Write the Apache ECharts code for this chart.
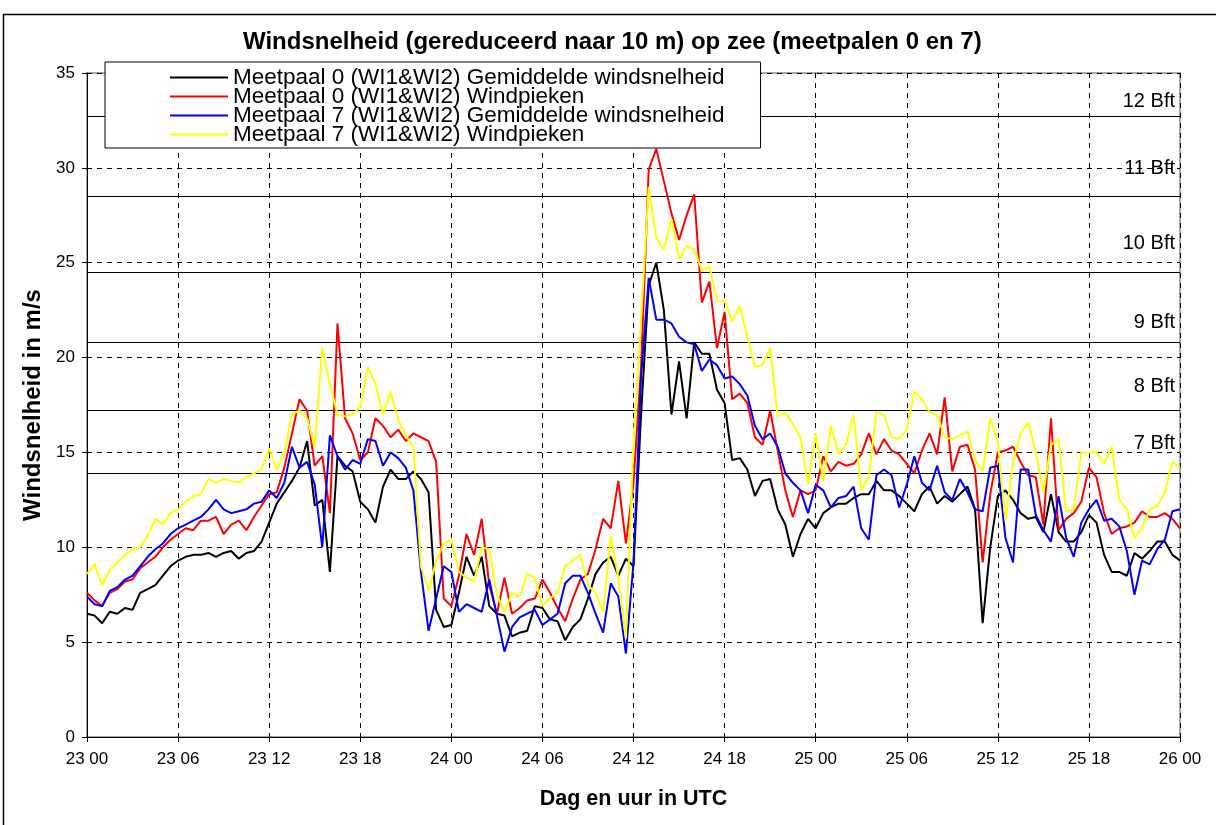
<!DOCTYPE html>
<html>
<head>
<meta charset="utf-8">
<title>Windsnelheid op zee</title>
<script src="https://cdn.jsdelivr.net/npm/echarts@6/dist/echarts.min.js"></script>
<style>
  html, body { margin: 0; padding: 0; background: #fff; }
  #chart { width: 1216px; height: 825px; }
</style>
</head>
<body>
<div id="chart"></div>
<script>
// half-hourly samples from 23 00 UTC to 26 00 UTC (145 values per series)
const meetpaal0Gem = [
  6.5, 6.4, 6.0, 6.6, 6.5, 6.8, 6.7, 7.6, 7.8, 8.0, 8.5, 9.0, 9.3, 9.5, 9.6,
  9.6, 9.7, 9.5, 9.7, 9.8, 9.4, 9.7, 9.8, 10.3, 11.3, 12.3, 12.9, 13.5, 14.2,
  15.6, 12.2, 12.5, 8.7, 14.8, 14.3, 14.0, 12.4, 12.0, 11.3, 13.2, 14.1, 13.6, 13.6, 14.0,
  13.6, 12.9, 6.7, 5.8, 5.9, 7.6, 9.5, 8.5, 9.5, 6.9, 6.5, 6.4, 5.3, 5.5,
  5.6, 6.9, 6.8, 6.2, 6.1, 5.1, 5.8, 6.2, 7.3, 8.6, 9.2, 9.5, 8.5, 9.4, 9.0,
  17.0, 23.8, 25.0, 22.5, 17.0, 19.8, 16.8, 20.8, 20.2, 20.2, 18.3, 17.6, 14.6, 14.7,
  14.1, 12.7, 13.5, 13.6, 12.0, 11.2, 9.5, 10.7, 11.5, 11.0, 11.8, 12.1, 12.3, 12.3, 12.6,
  12.8, 12.8, 13.5, 13.0, 13.0, 12.7, 12.3, 11.9, 12.8, 13.2, 12.3, 12.7, 12.4, 12.8, 13.2,
  12.0, 6.0, 10.0, 12.7, 13.0, 12.5, 11.8, 11.5, 11.6, 10.8, 12.8, 10.8, 10.3, 10.3,
  10.8, 11.7, 11.3, 9.6, 8.7, 8.7, 8.5, 9.7, 9.4, 9.8, 10.3, 10.3, 9.6, 9.3
];
const meetpaal0Piek = [
  7.6, 7.2, 6.9, 7.6, 7.8, 8.2, 8.3, 8.9, 9.2, 9.5, 10.0, 10.4, 10.7, 11.0, 10.9,
  11.4, 11.4, 11.6, 10.7, 11.2, 11.4, 10.9, 11.6, 12.2, 12.8, 12.9, 14.2, 16.0, 17.8,
  17.2, 14.3, 14.8, 11.8, 21.8, 16.8, 16.0, 14.6, 15.0, 16.8, 16.4, 15.8, 16.2, 15.6, 16.0,
  15.8, 15.6, 14.5, 7.3, 6.9, 8.5, 10.7, 9.6, 11.5, 8.0, 6.5, 8.4, 6.5, 6.8,
  7.2, 7.3, 8.3, 7.6, 6.8, 6.1, 7.3, 8.3, 8.6, 9.9, 11.5, 11.0, 13.5, 10.2, 13.4,
  19.5, 29.9, 31.0, 29.3, 27.6, 26.2, 27.5, 28.6, 22.9, 24.0, 20.5, 22.4, 17.8, 18.1,
  17.6, 15.8, 15.4, 17.2, 15.1, 13.0, 11.6, 13.0, 12.8, 13.0, 14.8, 14.0, 14.5, 14.3, 14.4,
  14.9, 16.0, 14.9, 15.7, 15.1, 14.9, 14.4, 13.9, 15.1, 16.0, 14.9, 17.9, 14.0, 15.3, 15.4,
  14.1, 9.2, 12.8, 15.0, 15.1, 15.3, 14.5, 13.8, 13.7, 11.2, 16.8, 10.9, 11.5, 11.8,
  12.4, 14.2, 13.7, 11.8, 10.7, 11.0, 11.1, 11.3, 11.9, 11.6, 11.6, 11.8, 11.5, 11.0
];
const meetpaal7Gem = [
  7.4, 7.0, 6.9, 7.7, 7.9, 8.3, 8.5, 9.0, 9.5, 9.9, 10.2, 10.7, 11.0, 11.2, 11.4,
  11.6, 12.0, 12.5, 12.0, 11.8, 11.9, 12.0, 12.3, 12.4, 13.0, 12.6, 13.4, 15.3, 14.2,
  14.5, 13.3, 10.0, 15.9, 14.8, 14.1, 14.6, 14.4, 15.7, 15.6, 14.3, 15.0, 14.7, 14.2, 13.0,
  8.7, 5.6, 7.3, 9.0, 8.7, 6.6, 7.0, 6.8, 6.6, 8.3, 6.4, 4.5, 5.8, 6.3,
  6.5, 6.7, 5.9, 6.2, 6.5, 8.1, 8.5, 8.5, 7.6, 6.5, 5.5, 8.1, 7.4, 4.4, 9.2,
  19.0, 24.2, 22.0, 22.0, 21.8, 21.1, 20.8, 20.7, 19.3, 19.9, 19.6, 18.9, 19.0, 18.6,
  18.0, 16.4, 15.7, 16.0, 15.3, 13.9, 13.4, 13.0, 11.8, 13.3, 13.0, 12.1, 12.6, 12.7, 13.2,
  11.0, 10.4, 13.8, 14.1, 13.8, 12.1, 13.3, 14.8, 13.4, 13.0, 14.3, 12.9, 12.5, 13.6, 12.9,
  12.0, 11.9, 14.2, 14.3, 10.5, 9.2, 14.1, 14.1, 11.7, 10.9, 10.3, 12.7, 10.5, 9.5,
  11.3, 12.0, 12.5, 11.4, 11.5, 11.1, 9.8, 7.5, 9.3, 9.1, 9.9, 10.4, 11.9, 12.0
];
const meetpaal7Piek = [
  8.6, 9.1, 8.0, 8.8, 9.2, 9.6, 9.9, 10.0, 10.6, 11.5, 11.2, 11.8, 12.0, 12.4, 12.7,
  12.8, 13.6, 13.4, 13.6, 13.5, 13.4, 13.7, 13.9, 14.1, 15.2, 14.1, 15.0, 17.0, 17.2,
  16.8, 15.3, 20.5, 18.6, 17.0, 16.9, 17.0, 17.4, 19.5, 18.6, 17.0, 18.2, 16.7, 15.9, 15.3,
  9.0, 7.7, 9.3, 10.2, 10.4, 8.7, 8.4, 8.2, 10.0, 9.9, 7.5, 6.6, 7.6, 7.4,
  8.6, 8.4, 6.9, 7.3, 7.6, 9.0, 9.3, 9.6, 8.0, 7.6, 6.6, 10.6, 8.4, 5.2, 15.5,
  22.0, 29.0, 26.3, 25.7, 27.3, 25.2, 25.9, 25.7, 24.6, 24.8, 23.0, 23.0, 21.9, 22.7,
  21.1, 19.5, 19.6, 20.5, 16.9, 17.1, 16.5, 15.8, 13.3, 16.0, 13.5, 16.4, 14.9, 15.4, 17.0,
  13.0, 13.7, 17.1, 17.0, 15.8, 15.7, 16.2, 18.2, 17.8, 17.1, 17.0, 15.8, 15.7, 15.9, 16.1,
  14.6, 14.0, 16.8, 15.6, 11.4, 14.5, 16.0, 16.6, 15.0, 12.9, 15.4, 15.7, 11.9, 12.0,
  15.0, 15.0, 15.0, 14.4, 15.3, 12.5, 12.0, 10.5, 11.0, 12.0, 12.2, 12.9, 14.5, 14.2
];
const xTickLabels = ['23 00', '23 06', '23 12', '23 18', '24 00', '24 06', '24 12',
  '24 18', '25 00', '25 06', '25 12', '25 18', '26 00'];
// Beaufort lower limits (m/s)
const bftLimits = [13.9, 17.2, 20.8, 24.5, 28.5, 32.7];
const bftNames = ['7 Bft', '8 Bft', '9 Bft', '10 Bft', '11 Bft', '12 Bft'];

const seriesNames = [
  'Meetpaal 0 (WI1&WI2) Gemiddelde windsnelheid',
  'Meetpaal 0 (WI1&WI2) Windpieken',
  'Meetpaal 7 (WI1&WI2) Gemiddelde windsnelheid',
  'Meetpaal 7 (WI1&WI2) Windpieken'
];
const seriesColors = ['#000000', '#ff0000', '#0000ff', '#ffff00'];
const seriesValues = [meetpaal0Gem, meetpaal0Piek, meetpaal7Gem, meetpaal7Piek];

const FONT = '"Liberation Sans", Arial, sans-serif';
const labelLift = [15, 9, 5, 14, 13, 0]; // extra px that each Bft label sits above its line

var chart = echarts.init(document.getElementById('chart'));

// hours since 23 00
const toPairs = vals => vals.map((v, i) => [i * 0.5, v]);

var lineSeries = seriesValues.map((vals, i) => ({
  name: seriesNames[i],
  type: 'line',
  data: toPairs(vals),
  symbol: 'none',
  showSymbol: false,
  silent: true,
  color: seriesColors[i],
  lineStyle: { color: seriesColors[i], width: 2 },
  z: 3 + i
}));

var option = {
  animation: false,
  backgroundColor: '#ffffff',
  textStyle: { fontFamily: FONT, color: '#000' },
  title: {
    text: 'Windsnelheid (gereduceerd naar 10 m) op zee (meetpalen 0 en 7)',
    left: 238,
    top: 25,
    textStyle: { fontFamily: FONT, fontSize: 24, fontWeight: 'bold', color: '#000' }
  },
  graphic: [{
    type: 'rect',
    shape: { x: 3.5, y: 14.5, width: 1300, height: 900 },
    style: { fill: 'none', stroke: '#000', lineWidth: 1.5 },
    silent: true
  }],
  grid: {
    left: 87, top: 73, right: 36, bottom: 88,
    show: true, borderColor: '#a8a8a8', borderWidth: 2
  },
  legend: {
    data: seriesNames,
    orient: 'vertical',
    left: 105,
    top: 62,
    z: 10,
    backgroundColor: '#ffffff',
    borderColor: '#000',
    borderWidth: 1,
    borderRadius: 0,
    padding: [4, 36, 2, 64],
    itemGap: -4,
    itemWidth: 58,
    itemHeight: 14,
    itemStyle: { opacity: 0 },
    lineStyle: { width: 2 },
    textStyle: { fontFamily: FONT, fontSize: 22.5, color: '#000' }
  },
  xAxis: {
    type: 'value',
    min: 0, max: 72, interval: 6,
    name: 'Dag en uur in UTC',
    nameLocation: 'middle',
    nameGap: 51,
    nameTextStyle: { fontFamily: FONT, fontSize: 21.5, fontWeight: 'bold', color: '#000' },
    axisLine: { show: true, onZero: false, lineStyle: { color: '#000', width: 1 } },
    axisTick: { show: true, length: 5, lineStyle: { color: '#000' } },
    axisLabel: {
      color: '#000', fontSize: 17, margin: 14,
      formatter: v => xTickLabels[Math.round(v / 6)]
    },
    splitLine: { show: true, lineStyle: { color: '#000', width: 1, type: [5, 5] } }
  },
  yAxis: {
    type: 'value',
    min: 0, max: 35, interval: 5,
    name: 'Windsnelheid in m/s',
    nameLocation: 'middle',
    nameGap: 42,
    nameTextStyle: { fontFamily: FONT, fontSize: 24, fontWeight: 'bold', color: '#000' },
    axisLine: { show: true, lineStyle: { color: '#000', width: 1 } },
    axisTick: { show: true, length: 5, lineStyle: { color: '#000' } },
    axisLabel: { color: '#000', fontSize: 17, margin: 12 },
    splitLine: { show: true, lineStyle: { color: '#000', width: 1, type: [5, 5] } }
  },
  series: [{
    name: 'bft',
    type: 'line',
    data: [],
    silent: true,
    z: 2,
    markLine: {
      silent: true,
      z: 2,
      symbol: ['none', 'none'],
      lineStyle: { color: '#000', width: 1, type: 'solid' },
      label: {
        position: 'insideEndTop',
        distance: 5,
        color: '#000',
        fontFamily: FONT,
        fontSize: 20,
        formatter: p => p.name
      },
      emphasis: { disabled: true },
      data: bftLimits.map((v, i) => ({
        yAxis: v,
        name: bftNames[i],
        label: { padding: [0, 0, labelLift[i], 0] }
      }))
    }
  }].concat(lineSeries)
};

chart.setOption(option);
</script>
</body>
</html>
